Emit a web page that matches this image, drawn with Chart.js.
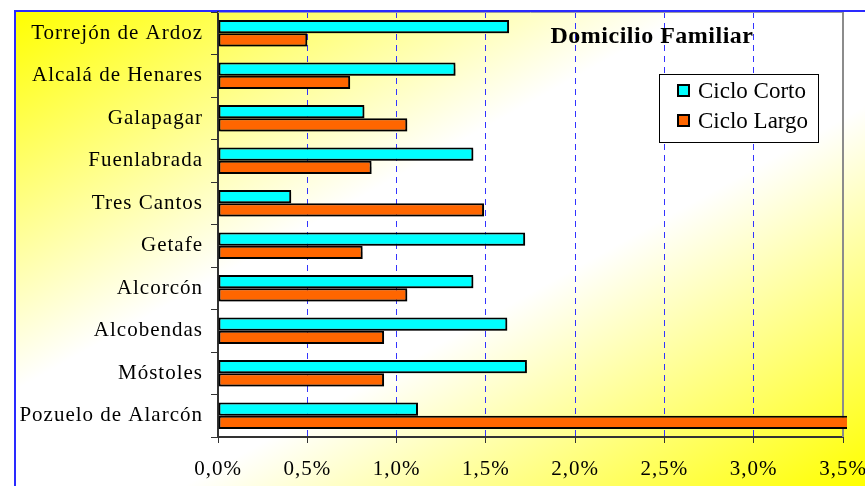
<!DOCTYPE html>
<html>
<head>
<meta charset="utf-8">
<script src="https://cdn.jsdelivr.net/npm/chart.js@4.4.0/dist/chart.umd.min.js"></script>
<style>
  html, body { margin: 0; padding: 0; background: #fff; }
  #wrap { width: 865px; height: 486px; position: relative; }
</style>
</head>
<body>
<div id="wrap"><canvas id="chart"></canvas></div>
<script>
const categories = [
  'Torrejón de Ardoz', 'Alcalá de Henares', 'Galapagar', 'Fuenlabrada', 'Tres Cantos',
  'Getafe', 'Alcorcón', 'Alcobendas', 'Móstoles', 'Pozuelo de Alarcón'
];
const seriesNames = ['Ciclo Corto', 'Ciclo Largo'];
const cicloCorto = [1.63, 1.33, 0.82, 1.43, 0.41, 1.72, 1.43, 1.62, 1.73, 1.12];
const cicloLargo = [0.50, 0.74, 1.06, 0.86, 1.49, 0.81, 1.06, 0.93, 0.93, 3.55];
const xTicks = [0, 0.5, 1, 1.5, 2, 2.5, 3, 3.5];
const chartTitle = 'Domicilio Familiar';

const seriesColors = ['#00ffff', '#ff6600'];
const serif = '"Liberation Serif", "Times New Roman", serif';

function pct(v) {
  return v.toFixed(1).replace('.', ',') + '%';
}

// yellow / white / yellow diagonal fill behind everything, blue frame on left + top
const backdrop = {
  id: 'backdrop',
  beforeDraw(chart) {
    const { ctx, width, height } = chart;
    ctx.save();
    ctx.fillStyle = '#fff';
    ctx.fillRect(0, 0, width, height);
    ctx.translate(14, 11);
    ctx.scale(width - 14, height - 11);
    const g = ctx.createLinearGradient(0, 0, 1, 1);
    g.addColorStop(0, '#ffff00');
    g.addColorStop(0.4, '#ffffff');
    g.addColorStop(0.6, '#ffffff');
    g.addColorStop(1, '#ffff00');
    ctx.fillStyle = g;
    ctx.fillRect(0, 0, 1, 1);
    ctx.restore();

    ctx.save();
    ctx.strokeStyle = '#2a2aff';
    ctx.lineWidth = 2;
    ctx.beginPath();
    ctx.moveTo(15, height);
    ctx.lineTo(15, 11);
    ctx.lineTo(width, 11);
    ctx.stroke();
    ctx.restore();

    ctx.letterSpacing = '1px';
  },
  beforeDatasetsDraw(chart) {
    const { ctx, chartArea: a } = chart;
    ctx.save();
    ctx.strokeStyle = '#9a9aa8';
    ctx.lineWidth = 1;
    ctx.beginPath();
    ctx.moveTo(a.left, a.top + 0.5);
    ctx.lineTo(a.right, a.top + 0.5);
    ctx.stroke();
    ctx.strokeStyle = '#8c8c8c';
    ctx.lineWidth = 2;
    ctx.beginPath();
    ctx.moveTo(a.right, a.top);
    ctx.lineTo(a.right, a.bottom);
    ctx.stroke();
    ctx.restore();

    // soft drop shadow under the bars
    ctx.save();
    ctx.shadowColor = 'rgba(0,0,0,0.28)';
    ctx.shadowOffsetX = 2;
    ctx.shadowOffsetY = 2;
    ctx.shadowBlur = 1;
  },
  afterDatasetsDraw(chart) {
    chart.ctx.restore();
  }
};

// title and legend sit inside the plot area
const overlay = {
  id: 'overlay',
  afterDraw(chart) {
    const ctx = chart.ctx;
    ctx.save();
    ctx.letterSpacing = '0.5px';
    ctx.fillStyle = '#000';
    ctx.font = 'bold 24px ' + serif;
    ctx.textAlign = 'center';
    ctx.textBaseline = 'middle';
    ctx.fillText(chartTitle, 652, 37);

    const lx = 659, ly = 74, lw = 159, lh = 68;
    ctx.letterSpacing = '0px';
    ctx.fillStyle = '#fff';
    ctx.fillRect(lx, ly, lw, lh);
    ctx.strokeStyle = '#000';
    ctx.lineWidth = 1;
    ctx.strokeRect(lx + 0.5, ly + 0.5, lw, lh);

    ctx.font = '23px ' + serif;
    ctx.textAlign = 'left';
    chart.data.datasets.forEach((ds, i) => {
      const cy = 91 + i * 30;
      ctx.fillStyle = ds.backgroundColor;
      ctx.fillRect(678, cy - 6, 11, 11);
      ctx.strokeStyle = '#000';
      ctx.lineWidth = 2;
      ctx.strokeRect(678, cy - 6, 11, 11);
      ctx.fillStyle = '#000';
      ctx.fillText(ds.label, 698, cy + 1);
    });
    ctx.restore();
  }
};

const ctx = document.getElementById('chart').getContext('2d');
new Chart(ctx, {
  type: 'bar',
  data: {
    labels: categories,
    datasets: [cicloCorto, cicloLargo].map((vals, i) => ({
      label: seriesNames[i],
      data: vals,
      backgroundColor: seriesColors[i],
      borderColor: '#000',
      borderWidth: 2,
      borderSkipped: false,
      categoryPercentage: 0.62,
      barPercentage: 1,
      clip: { left: 0, top: 0, right: 4, bottom: 0 }
    }))
  },
  options: {
    indexAxis: 'y',
    responsive: true,
    maintainAspectRatio: false,
    animation: false,
    layout: { padding: { left: 0, top: 12, right: 22, bottom: 0 } },
    plugins: {
      legend: { display: false },
      tooltip: { enabled: false }
    },
    scales: {
      x: {
        min: 0,
        max: 3.5,
        afterBuildTicks: scale => { scale.ticks = xTicks.map(v => ({ value: v })); },
        afterFit: scale => {
          scale.height = 49;
          scale.paddingLeft = 0;
          scale.paddingRight = 0;
        },
        grid: {
          color: c => (c.tick && (c.tick.value === 0 || c.tick.value === 3.5)) ? 'rgba(0,0,0,0)' : '#3333ff',
          lineWidth: 1,
          tickLength: 6,
          tickColor: '#333',
          tickWidth: 1
        },
        border: { color: '#333', width: 2, dash: [6, 5] },
        ticks: {
          color: '#000',
          font: { family: serif, size: 21 },
          padding: 14,
          maxRotation: 0,
          callback: v => pct(v)
        }
      },
      y: {
        afterFit: scale => {
          scale.width = 218;
          scale.paddingTop = 0;
          scale.paddingBottom = 0;
        },
        grid: {
          drawOnChartArea: false,
          tickLength: 7,
          tickColor: '#333',
          tickWidth: 1
        },
        border: { color: '#333', width: 2 },
        ticks: {
          color: '#000',
          font: { family: serif, size: 21 },
          padding: 8
        }
      }
    }
  },
  plugins: [backdrop, overlay]
});
</script>
</body>
</html>
